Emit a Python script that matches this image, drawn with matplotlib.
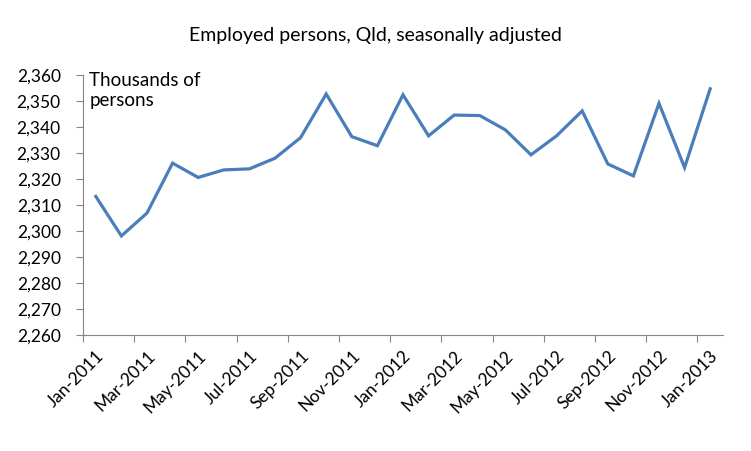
import numpy as np
import matplotlib.pyplot as plt
from matplotlib.ticker import FuncFormatter, FixedLocator

plt.rcParams['font.family'] = ['Lato', 'DejaVu Sans']

# monthly, Jan-2011 .. Jan-2013
months = ["Jan-2011", "Feb-2011", "Mar-2011", "Apr-2011", "May-2011", "Jun-2011",
          "Jul-2011", "Aug-2011", "Sep-2011", "Oct-2011", "Nov-2011", "Dec-2011",
          "Jan-2012", "Feb-2012", "Mar-2012", "Apr-2012", "May-2012", "Jun-2012",
          "Jul-2012", "Aug-2012", "Sep-2012", "Oct-2012", "Nov-2012", "Dec-2012",
          "Jan-2013"]
employed = [2313.3, 2298.1, 2306.9, 2326.1, 2320.6, 2323.5, 2323.9, 2328.0,
            2335.9, 2352.7, 2336.3, 2332.8, 2352.4, 2336.6, 2344.6, 2344.4,
            2338.9, 2329.3, 2336.6, 2346.2, 2325.8, 2321.2, 2349.1, 2324.4,
            2354.7]

fig = plt.figure(figsize=(7.51, 4.51), dpi=100)
ax = fig.add_axes([0.1105, 0.2572, 0.8522, 0.5765])

x = np.arange(len(months))
ax.plot(x, employed, color="#4a7ebb", lw=2.3, solid_joinstyle="miter")

ax.set_xlim(-0.5, len(months) - 0.5)
ax.set_ylim(2260, 2360)
ax.set_yticks(np.arange(2260, 2361, 10))
ax.yaxis.set_major_formatter(FuncFormatter(lambda v, p: f"{v:,.0f}"))

# ticks at category boundaries, labels at every second month
ax.xaxis.set_major_locator(FixedLocator(np.arange(-0.5, len(months) - 1, 2)))
ax.set_xticklabels([])
ax.set_xticks(x[::2], minor=True)
ax.set_xticklabels(months[::2], minor=True, rotation=45, ha="right",
                   rotation_mode="anchor", fontsize=12.5)
ax.tick_params(axis="x", which="minor", length=0, pad=9)
ax.tick_params(axis="x", which="major", length=5, color="#868686")
ax.tick_params(axis="y", length=5, color="#868686", labelsize=12.5, pad=11)

for s in ["top", "right"]:
    ax.spines[s].set_visible(False)
for s in ["left", "bottom"]:
    ax.spines[s].set_color("#868686")

ax.text(0.01, 1.01, "Thousands of\npersons", transform=ax.transAxes,
        fontsize=13.5, va="top", ha="left", linespacing=1.15)
fig.text(0.5, 0.922, "Employed persons, Qld, seasonally adjusted",
         ha="center", va="center", fontsize=14)

fig.savefig("out.png", dpi=100)
